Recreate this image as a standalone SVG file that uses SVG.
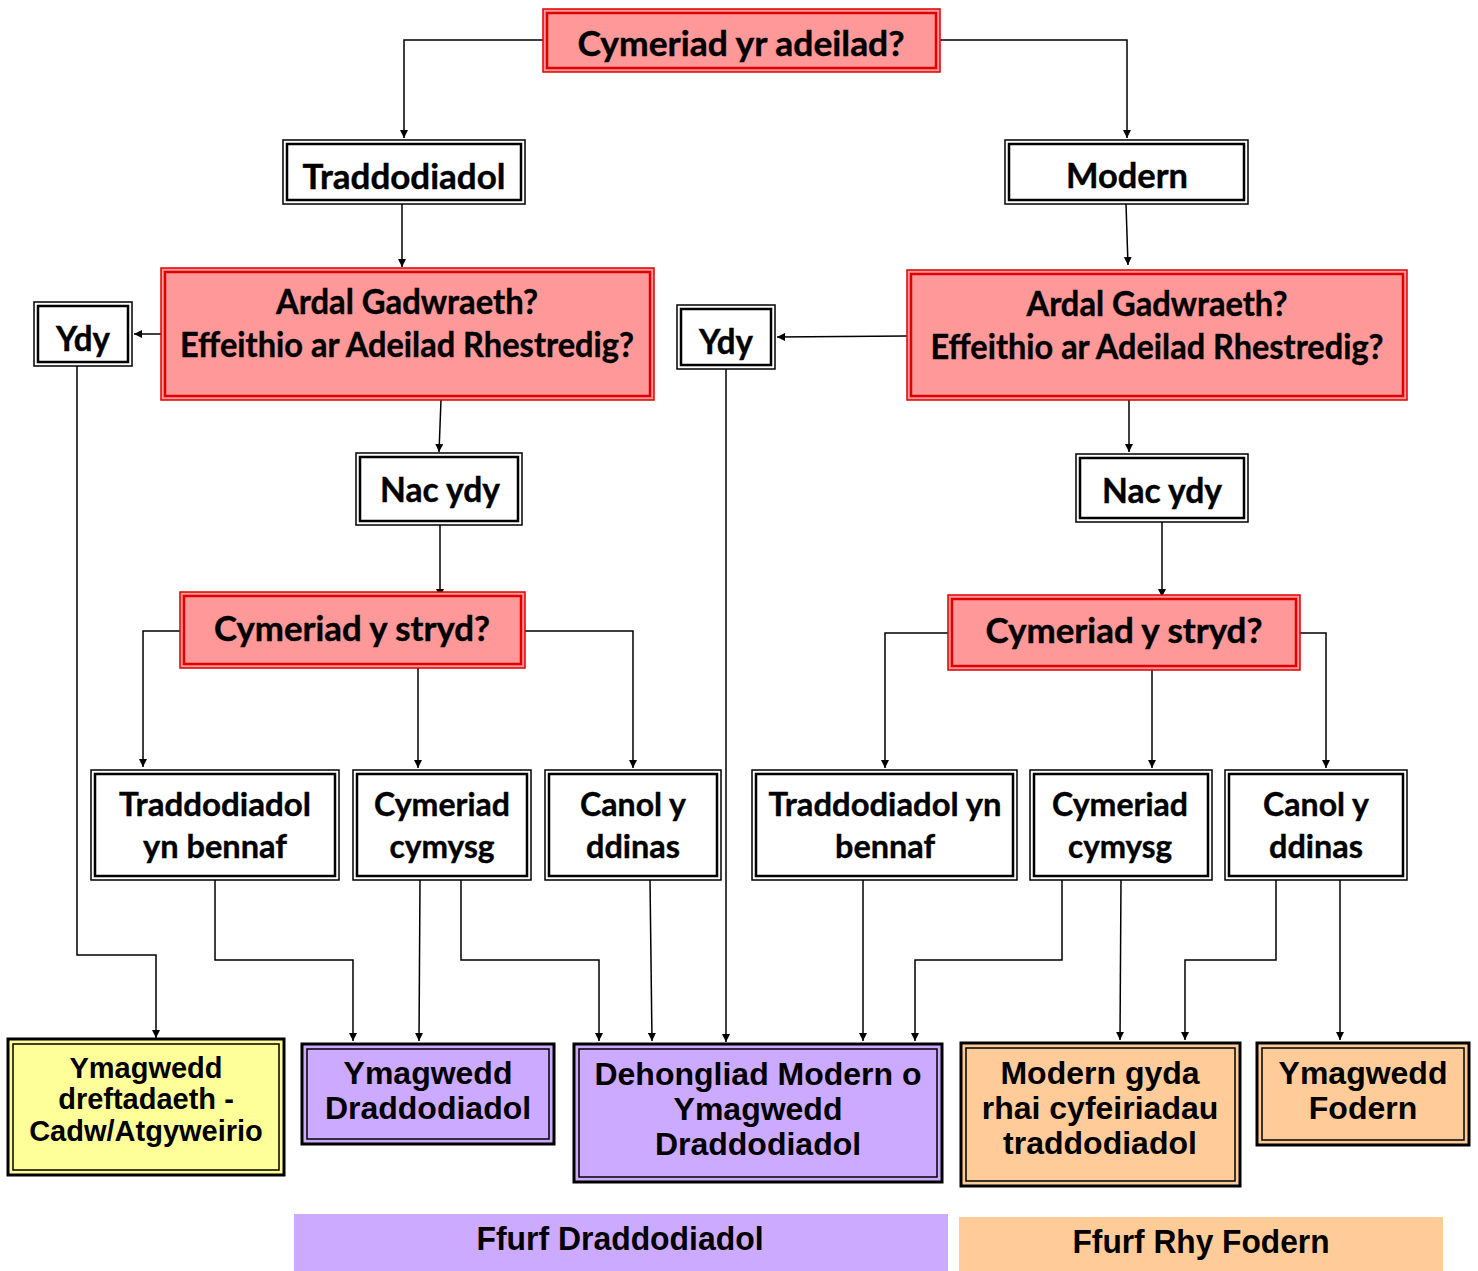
<svg xmlns="http://www.w3.org/2000/svg" width="1478" height="1271" viewBox="0 0 1478 1271">
<defs>
<marker id="ah" markerUnits="userSpaceOnUse" markerWidth="9" markerHeight="8" refX="8" refY="4" orient="auto"><path d="M0,0 L8,4 L0,8 z" fill="#000"/></marker>
<style>
.o{fill:#fff;stroke:#000;stroke-width:1.5}
.i{fill:none;stroke:#000;stroke-width:2.5}
.ro{fill:#FF9999;stroke:#E00000;stroke-width:1.5}
.ri{fill:none;stroke:#E00000;stroke-width:2.5}
.bo{stroke:#000;stroke-width:3}
.bi{fill:none;stroke:#000;stroke-width:1.5}
.t{font-family:Lato,"Open Sans",sans-serif;font-weight:bold;font-size:34px;text-anchor:middle;fill:#000;stroke:#000;stroke-width:0.4}
.s{font-size:33px}
.a{font-family:"Liberation Sans",Arial,sans-serif;font-weight:bold;font-size:32px;text-anchor:middle;fill:#000}
.c{fill:none;stroke:#000;stroke-width:1.5}
</style>
</defs>
<g id="connectors">
<path class="c" d="M543,40 H404 V138" marker-end="url(#ah)"/>
<path class="c" d="M940,40 H1127 V138" marker-end="url(#ah)"/>
<path class="c" d="M402,204 V267" marker-end="url(#ah)"/>
<path class="c" d="M1126,204 L1128,265" marker-end="url(#ah)"/>
<path class="c" d="M161,334 H134" marker-end="url(#ah)"/>
<path class="c" d="M907,336 L777,337" marker-end="url(#ah)"/>
<path class="c" d="M441,400 L439,452" marker-end="url(#ah)"/>
<path class="c" d="M1129,400 V452" marker-end="url(#ah)"/>
<path class="c" d="M440,525 V597" marker-end="url(#ah)"/>
<path class="c" d="M1162,522 V597" marker-end="url(#ah)"/>
<path class="c" d="M180,631 H143 V767" marker-end="url(#ah)"/>
<path class="c" d="M418,668 V768" marker-end="url(#ah)"/>
<path class="c" d="M525,631 H633 V768" marker-end="url(#ah)"/>
<path class="c" d="M948,633 H885 V768" marker-end="url(#ah)"/>
<path class="c" d="M1152,670 V768" marker-end="url(#ah)"/>
<path class="c" d="M1300,633 H1326 V768" marker-end="url(#ah)"/>
<path class="c" d="M77,366 V955 H156 V1038" marker-end="url(#ah)"/>
<path class="c" d="M726,369 V1042" marker-end="url(#ah)"/>
<path class="c" d="M215,880 V960 H353 V1041" marker-end="url(#ah)"/>
<path class="c" d="M420,880 L419,1041" marker-end="url(#ah)"/>
<path class="c" d="M461,880 V960 H599 V1041" marker-end="url(#ah)"/>
<path class="c" d="M650,880 L652,1041" marker-end="url(#ah)"/>
<path class="c" d="M863,880 V1041" marker-end="url(#ah)"/>
<path class="c" d="M1062,880 V960 H915 V1041" marker-end="url(#ah)"/>
<path class="c" d="M1121,880 L1120,1040" marker-end="url(#ah)"/>
<path class="c" d="M1276,880 V960 H1185 V1040" marker-end="url(#ah)"/>
<path class="c" d="M1340,880 V1040" marker-end="url(#ah)"/>
</g>
<g id="n-top"><rect class="ro" x="543" y="9" width="397" height="63"/><rect class="ri" x="547" y="13" width="389" height="55"/><text class="t" x="741" y="56" textLength="327" lengthAdjust="spacingAndGlyphs">Cymeriad yr adeilad?</text></g>
<g id="n-trad"><rect class="o" x="283" y="140" width="242" height="64"/><rect class="i" x="287" y="144" width="234" height="56"/><text class="t" x="404" y="189" textLength="203" lengthAdjust="spacingAndGlyphs">Traddodiadol</text></g>
<g id="n-modern"><rect class="o" x="1005" y="140" width="243" height="64"/><rect class="i" x="1009" y="144" width="235" height="56"/><text class="t" x="1127" y="188" textLength="122" lengthAdjust="spacingAndGlyphs">Modern</text></g>
<g id="n-ardal-l"><rect class="ro" x="161" y="268" width="493" height="132"/><rect class="ri" x="165" y="272" width="485" height="124"/><text class="t" x="407" y="314" textLength="262" lengthAdjust="spacingAndGlyphs">Ardal Gadwraeth?</text><text class="t" x="407" y="357" textLength="454" lengthAdjust="spacingAndGlyphs">Effeithio ar Adeilad Rhestredig?</text></g>
<g id="n-ardal-r"><rect class="ro" x="907" y="270" width="500" height="130"/><rect class="ri" x="911" y="274" width="492" height="122"/><text class="t" x="1157" y="316" textLength="261" lengthAdjust="spacingAndGlyphs">Ardal Gadwraeth?</text><text class="t" x="1157" y="359" textLength="453" lengthAdjust="spacingAndGlyphs">Effeithio ar Adeilad Rhestredig?</text></g>
<g id="n-ydy-l"><rect class="o" x="34" y="302" width="98" height="64"/><rect class="i" x="38" y="306" width="90" height="56"/><text class="t" x="83" y="351" textLength="54" lengthAdjust="spacingAndGlyphs">Ydy</text></g>
<g id="n-ydy-r"><rect class="o" x="677" y="305" width="98" height="64"/><rect class="i" x="681" y="309" width="90" height="56"/><text class="t" x="726" y="354" textLength="54" lengthAdjust="spacingAndGlyphs">Ydy</text></g>
<g id="n-nac-l"><rect class="o" x="356" y="453" width="166" height="72"/><rect class="i" x="360" y="457" width="158" height="64"/><text class="t" x="440" y="502" textLength="120" lengthAdjust="spacingAndGlyphs">Nac ydy</text></g>
<g id="n-nac-r"><rect class="o" x="1076" y="454" width="172" height="68"/><rect class="i" x="1080" y="458" width="164" height="60"/><text class="t" x="1162" y="503" textLength="120" lengthAdjust="spacingAndGlyphs">Nac ydy</text></g>
<g id="n-stryd-l"><rect class="ro" x="180" y="592" width="345" height="76"/><rect class="ri" x="184" y="596" width="337" height="68"/><text class="t" x="352" y="641" textLength="276" lengthAdjust="spacingAndGlyphs">Cymeriad y stryd?</text></g>
<g id="n-stryd-r"><rect class="ro" x="948" y="595" width="352" height="75"/><rect class="ri" x="952" y="599" width="344" height="67"/><text class="t" x="1124" y="643" textLength="277" lengthAdjust="spacingAndGlyphs">Cymeriad y stryd?</text></g>
<g id="n-l1"><rect class="o" x="91" y="770" width="248" height="110"/><rect class="i" x="95" y="774" width="240" height="102"/><text class="t s" x="215" y="816" textLength="192" lengthAdjust="spacingAndGlyphs">Traddodiadol</text><text class="t s" x="215" y="858" textLength="144" lengthAdjust="spacingAndGlyphs">yn bennaf</text></g>
<g id="n-l2"><rect class="o" x="353" y="770" width="178" height="110"/><rect class="i" x="357" y="774" width="170" height="102"/><text class="t s" x="442" y="816" textLength="136" lengthAdjust="spacingAndGlyphs">Cymeriad</text><text class="t s" x="442" y="858" textLength="105" lengthAdjust="spacingAndGlyphs">cymysg</text></g>
<g id="n-l3"><rect class="o" x="545" y="770" width="176" height="110"/><rect class="i" x="549" y="774" width="168" height="102"/><text class="t s" x="633" y="816" textLength="106" lengthAdjust="spacingAndGlyphs">Canol y</text><text class="t s" x="633" y="858" textLength="94" lengthAdjust="spacingAndGlyphs">ddinas</text></g>
<g id="n-r1"><rect class="o" x="752" y="770" width="265" height="110"/><rect class="i" x="756" y="774" width="257" height="102"/><text class="t s" x="885" y="816" textLength="233" lengthAdjust="spacingAndGlyphs">Traddodiadol yn</text><text class="t s" x="885" y="858" textLength="100" lengthAdjust="spacingAndGlyphs">bennaf</text></g>
<g id="n-r2"><rect class="o" x="1030" y="770" width="182" height="110"/><rect class="i" x="1034" y="774" width="174" height="102"/><text class="t s" x="1120" y="816" textLength="136" lengthAdjust="spacingAndGlyphs">Cymeriad</text><text class="t s" x="1120" y="858" textLength="104" lengthAdjust="spacingAndGlyphs">cymysg</text></g>
<g id="n-r3"><rect class="o" x="1225" y="770" width="182" height="110"/><rect class="i" x="1229" y="774" width="174" height="102"/><text class="t s" x="1316" y="816" textLength="106" lengthAdjust="spacingAndGlyphs">Canol y</text><text class="t s" x="1316" y="858" textLength="94" lengthAdjust="spacingAndGlyphs">ddinas</text></g>
<g id="n-b1"><rect class="bo" fill="#FFFF99" x="8" y="1039" width="276" height="136"/><rect class="bi" x="13" y="1044" width="266" height="126"/><text class="a" x="146" y="1078" style="font-size:29px">Ymagwedd</text><text class="a" x="146" y="1109" style="font-size:29px">dreftadaeth -</text><text class="a" x="146" y="1141" style="font-size:29px">Cadw/Atgyweirio</text></g>
<g id="n-b2"><rect class="bo" fill="#CCAAFF" x="302" y="1044" width="252" height="100"/><rect class="bi" x="307" y="1049" width="242" height="90"/><text class="a" x="428" y="1084">Ymagwedd</text><text class="a" x="428" y="1119">Draddodiadol</text></g>
<g id="n-b3"><rect class="bo" fill="#CCAAFF" x="574" y="1044" width="368" height="138"/><rect class="bi" x="579" y="1049" width="358" height="128"/><text class="a" x="758" y="1085">Dehongliad Modern o</text><text class="a" x="758" y="1120">Ymagwedd</text><text class="a" x="758" y="1155">Draddodiadol</text></g>
<g id="n-b4"><rect class="bo" fill="#FFCC99" x="961" y="1043" width="279" height="143"/><rect class="bi" x="966" y="1048" width="269" height="133"/><text class="a" x="1100" y="1084">Modern gyda</text><text class="a" x="1100" y="1119">rhai cyfeiriadau</text><text class="a" x="1100" y="1154">traddodiadol</text></g>
<g id="n-b5"><rect class="bo" fill="#FFCC99" x="1257" y="1043" width="212" height="102"/><rect class="bi" x="1262" y="1048" width="202" height="92"/><text class="a" x="1363" y="1084">Ymagwedd</text><text class="a" x="1363" y="1119">Fodern</text></g>
<g id="legend-trad"><rect x="294" y="1214" width="654" height="57" fill="#CCAAFF"/><text class="a" x="620" y="1250" style="font-size:34px" textLength="287" lengthAdjust="spacingAndGlyphs">Ffurf Draddodiadol</text></g>
<g id="legend-mod"><rect x="959" y="1217" width="484" height="54" fill="#FFCC99"/><text class="a" x="1201" y="1253" style="font-size:34px" textLength="257" lengthAdjust="spacingAndGlyphs">Ffurf Rhy Fodern</text></g>
</svg>
